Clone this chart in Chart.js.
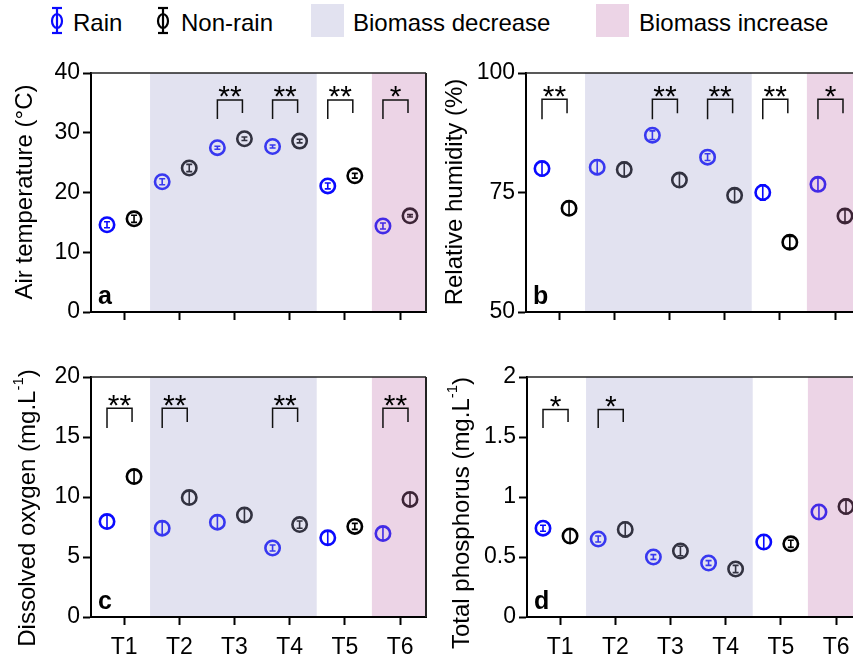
<!DOCTYPE html>
<html>
<head>
<meta charset="utf-8">
<script src="https://cdn.jsdelivr.net/npm/chart.js@4.4.1/dist/chart.umd.min.js"></script>
<style>
  body { margin: 0; width: 853px; height: 661px; overflow: hidden; background: #fff; position: relative;
         font-family: "Liberation Sans", Arial, sans-serif; }
  canvas { position: absolute; }
  .lg { position: absolute; top: 11px; font-size: 24px; line-height: 24px; color: #000; white-space: nowrap; }
  .box { position: absolute; top: 4px; width: 33px; height: 33px; }
</style>
</head>
<body>
<svg width="853" height="40" style="position:absolute;left:0;top:0">
  <g stroke="#0a0aff" stroke-width="2.2" fill="#fff">
    <line x1="57" y1="8" x2="57" y2="33"/><line x1="52" y1="8" x2="62" y2="8"/><line x1="52" y1="33" x2="62" y2="33"/>
    <ellipse cx="57" cy="21" rx="5" ry="7" fill="none"/>
  </g>
  <g stroke="#000" stroke-width="2.2" fill="#fff">
    <line x1="163" y1="8" x2="163" y2="33"/><line x1="158" y1="8" x2="168" y2="8"/><line x1="158" y1="33" x2="168" y2="33"/>
    <ellipse cx="163" cy="21" rx="5" ry="7" fill="none"/>
  </g>
</svg>
<span class="lg" style="left:73px">Rain</span>
<span class="lg" style="left:181px">Non-rain</span>
<div class="box" style="left:311px;background:rgb(226,226,240)"></div>
<span class="lg" style="left:353px">Biomass decrease</span>
<div class="box" style="left:596px;background:rgb(236,212,230)"></div>
<span class="lg" style="left:639px">Biomass increase</span>

<canvas id="chartA" width="430" height="340" style="left:0;top:0"></canvas>
<canvas id="chartB" width="435" height="340" style="left:430px;top:0"></canvas>
<canvas id="chartC" width="430" height="321" style="left:0;top:340px"></canvas>
<canvas id="chartD" width="435" height="321" style="left:430px;top:340px"></canvas>

<script>
const periods = ['T1', 'T2', 'T3', 'T4', 'T5', 'T6'];

// a: air temperature (°C)
const airRain = [14.6, 21.8, 27.5, 27.7, 21.1, 14.4];
const airRainErr = [0.5, 0.5, 0.25, 0.25, 0.5, 0.5];
const airNon = [15.6, 24.1, 29.0, 28.6, 22.8, 16.1];
const airNonErr = [0.6, 0.6, 0.3, 0.3, 0.4, 0.2];
const airSig = ['', '', '**', '**', '**', '*'];

// b: relative humidity (%)
const rhRain = [80.0, 80.3, 87.0, 82.4, 75.0, 76.7];
const rhRainErr = [1.5, 1.5, 0.9, 0.7, 1.6, 1.4];
const rhNon = [71.7, 79.8, 77.6, 74.4, 64.6, 70.1];
const rhNonErr = [1.4, 1.5, 1.5, 1.4, 1.2, 1.3];
const rhSig = ['**', '', '**', '**', '**', '*'];

// c: dissolved oxygen (mg/L)
const doRain = [7.95, 7.4, 7.9, 5.75, 6.6, 6.95];
const doRainErr = [0.55, 0.55, 0.55, 0.25, 0.55, 0.55];
const doNon = [11.7, 9.95, 8.5, 7.7, 7.55, 9.8];
const doNonErr = [0.55, 0.55, 0.55, 0.3, 0.25, 0.55];
const doSig = ['**', '**', '', '**', '', '**'];

// d: total phosphorus (mg/L)
const tpRain = [0.74, 0.65, 0.50, 0.45, 0.625, 0.875];
const tpRainErr = [0.025, 0.025, 0.02, 0.02, 0.06, 0.06];
const tpNon = [0.675, 0.73, 0.55, 0.40, 0.61, 0.92];
const tpNonErr = [0.06, 0.06, 0.04, 0.03, 0.03, 0.06];
const tpSig = ['*', '*', '', '', '', ''];

// shaded periods, in x units (periods are at 0..5)
const decreaseBand = [0.47, 3.49];
const increaseBand = [4.49, 6];

const RAIN_SHIFT = -0.31;
const NON_SHIFT = 0.18;
const RAIN_COLOR = '#0a0aff';
const NON_COLOR = '#000000';
const FONT = '"Liberation Sans", Arial, sans-serif';

const panelPlugin = {
  id: 'panel',
  afterDatasetsDraw(chart, args, opts) {
    const { ctx, chartArea: ca, scales: { x, y } } = chart;
    // error bars
    chart.data.datasets.forEach((ds, di) => {
      const meta = chart.getDatasetMeta(di);
      ctx.save();
      ctx.strokeStyle = ds.borderColor;
      ctx.lineWidth = 1.6;
      meta.data.forEach((pt, i) => {
        const v = ds.data[i].y, e = ds.errors[i];
        const y1 = y.getPixelForValue(v + e), y2 = y.getPixelForValue(v - e);
        ctx.beginPath();
        ctx.moveTo(pt.x, y1); ctx.lineTo(pt.x, y2);
        ctx.moveTo(pt.x - 3, y1); ctx.lineTo(pt.x + 3, y1);
        ctx.moveTo(pt.x - 3, y2); ctx.lineTo(pt.x + 3, y2);
        ctx.stroke();
      });
      ctx.restore();
    });
    // shaded periods drawn over the points
    ctx.save();
    [[decreaseBand, 'rgba(163,163,207,0.31)'], [increaseBand, 'rgba(194,116,174,0.31)']].forEach(([b, c]) => {
      const l = Math.max(x.getPixelForValue(b[0]), ca.left + 1);
      const r = Math.min(x.getPixelForValue(b[1]), ca.right);
      ctx.fillStyle = c;
      ctx.fillRect(l, ca.top, r - l, ca.bottom - ca.top - 1);
    });
    ctx.restore();
  },
  afterDraw(chart, args, opts) {
    const { ctx, chartArea: ca, scales: { x, y } } = chart;
    ctx.save();
    // top and right frame
    ctx.strokeStyle = '#222';
    ctx.lineWidth = 1.5;
    ctx.beginPath();
    ctx.moveTo(ca.left, ca.top); ctx.lineTo(ca.right, ca.top);
    ctx.stroke();
    ctx.lineWidth = 2;
    ctx.beginPath();
    ctx.moveTo(ca.right, ca.top); ctx.lineTo(ca.right, ca.bottom);
    ctx.stroke();

    // significance brackets
    ctx.strokeStyle = '#111';
    ctx.lineWidth = 1.5;
    ctx.fillStyle = '#000';
    ctx.font = '30px ' + FONT;
    ctx.textAlign = 'center';
    ctx.textBaseline = 'alphabetic';
    const m = ctx.measureText('*');
    const starShift = (m.actualBoundingBoxAscent - m.actualBoundingBoxDescent) / 2;
    opts.sig.forEach((s, i) => {
      if (!s) return;
      const xl = x.getPixelForValue(i + RAIN_SHIFT);
      const xr = x.getPixelForValue(i + NON_SHIFT) - 2;
      const yt = y.getPixelForValue(opts.bracket[0]);
      ctx.beginPath();
      ctx.moveTo(xl, y.getPixelForValue(opts.bracket[1]));
      ctx.lineTo(xl, yt); ctx.lineTo(xr, yt);
      ctx.lineTo(xr, y.getPixelForValue(opts.bracket[2]));
      ctx.stroke();
      ctx.fillText(s, (xl + xr) / 2, yt - 8 + starShift);
    });

    // panel letter
    ctx.font = 'bold 25px ' + FONT;
    ctx.textAlign = 'left';
    ctx.fillText(opts.letter, ca.left + 7, ca.bottom - 8);

    // y axis title (with optional superscript)
    ctx.translate(opts.titlePos[0], opts.titlePos[1]);
    ctx.rotate(-Math.PI / 2);
    ctx.textBaseline = 'middle';
    const parts = opts.title;
    const mainFont = '24px ' + FONT, supFont = '15px ' + FONT;
    ctx.font = mainFont; const w1 = ctx.measureText(parts[0]).width;
    ctx.font = supFont; const w2 = parts[1] ? ctx.measureText(parts[1]).width : 0;
    ctx.font = mainFont; const w3 = parts[2] ? ctx.measureText(parts[2]).width : 0;
    let cx = -(w1 + w2 + w3) / 2;
    ctx.font = mainFont; ctx.fillText(parts[0], cx, 0); cx += w1;
    if (parts[1]) { ctx.font = supFont; ctx.fillText(parts[1], cx, -9); cx += w2; }
    if (parts[2]) { ctx.font = mainFont; ctx.fillText(parts[2], cx, 0); }
    ctx.restore();
  }
};

function makePanel(id, p) {
  const dataset = (vals, errs, shift, color, label) => ({
    label: label,
    data: vals.map((v, i) => ({ x: i + shift, y: v })),
    errors: errs,
    borderColor: color,
    backgroundColor: 'rgba(0,0,0,0)',
    pointRadius: 7.2,
    pointBorderWidth: 2.6,
    pointHoverRadius: 7.2,
    showLine: false
  });
  new Chart(document.getElementById(id), {
    type: 'scatter',
    data: {
      datasets: [
        dataset(p.rain, p.rainErr, RAIN_SHIFT, RAIN_COLOR, 'Rain'),
        dataset(p.non, p.nonErr, NON_SHIFT, NON_COLOR, 'Non-rain')
      ]
    },
    options: {
      responsive: false,
      animation: false,
      events: [],
      layout: { autoPadding: false, padding: { top: p.padTop, right: p.padRight, left: 0, bottom: 0 } },
      plugins: {
        legend: { display: false },
        tooltip: { enabled: false },
        panel: { sig: p.sig, bracket: p.bracket, letter: p.letter, title: p.title, titlePos: p.titlePos }
      },
      scales: {
        x: {
          type: 'linear',
          min: -0.6,
          max: 5.47,
          afterBuildTicks: s => { s.ticks = periods.map((_, i) => ({ value: i })); },
          afterFit: s => { s.height = p.xHeight; },
          ticks: {
            autoSkip: false,
            maxRotation: 0,
            padding: 9,
            color: '#000',
            font: { family: FONT, size: 23 },
            callback: v => p.showLabels ? periods[Math.round(v)] : ''
          },
          grid: { drawOnChartArea: false, drawTicks: true, tickLength: 8, tickWidth: 2, tickColor: '#000' },
          border: { color: '#000', width: 2 }
        },
        y: {
          min: p.yMin,
          max: p.yMax,
          afterFit: s => { s.width = p.yWidth; },
          ticks: {
            stepSize: p.step,
            padding: 3,
            color: '#000',
            font: { family: FONT, size: 23 },
            callback: v => String(+v.toFixed(2))
          },
          grid: { drawOnChartArea: false, drawTicks: true, tickLength: 8, tickWidth: 2, tickColor: '#000' },
          border: { color: '#000', width: 2 }
        }
      }
    },
    plugins: [panelPlugin]
  });
}

makePanel('chartA', {
  rain: airRain, rainErr: airRainErr, non: airNon, nonErr: airNonErr, sig: airSig,
  bracket: [35.5, 32.3, 33.3], letter: 'a', title: ['Air temperature (°C)'], titlePos: [25, 192],
  yMin: 0, yMax: 40, step: 10, yWidth: 91, xHeight: 28, padTop: 73, padRight: 4, showLabels: false
});
makePanel('chartB', {
  rain: rhRain, rainErr: rhRainErr, non: rhNon, nonErr: rhNonErr, sig: rhSig,
  bracket: [94.5, 90.3, 91.6], letter: 'b', title: ['Relative humidity (%)'], titlePos: [25, 192],
  yMin: 50, yMax: 100, step: 25, yWidth: 96, xHeight: 28, padTop: 73, padRight: 4, showLabels: false
});
makePanel('chartC', {
  rain: doRain, rainErr: doRainErr, non: doNon, nonErr: doNonErr, sig: doSig,
  bracket: [17.4, 15.75, 16.25], letter: 'c', title: ['Dissolved oxygen (mg.L', '-1', ')'], titlePos: [28, 168],
  yMin: 0, yMax: 20, step: 5, yWidth: 91, xHeight: 44, padTop: 37, padRight: 4, showLabels: true
});
makePanel('chartD', {
  rain: tpRain, rainErr: tpRainErr, non: tpNon, nonErr: tpNonErr, sig: tpSig,
  bracket: [1.73, 1.575, 1.625], letter: 'd', title: ['Total phosphorus (mg.L', '-1', ')'], titlePos: [32, 173],
  yMin: 0, yMax: 2, step: 0.5, yWidth: 97, xHeight: 44, padTop: 37, padRight: 3, showLabels: true
});
</script>
</body>
</html>
